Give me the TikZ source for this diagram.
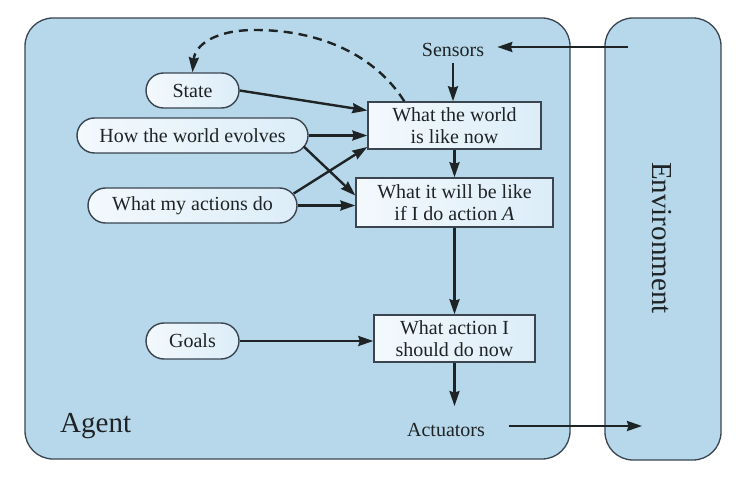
\documentclass[tikz,border=0pt]{standalone}
\usepackage{fontspec}
\setmainfont{Liberation Serif}
\newfontfamily\tnr{Liberation Serif}
\usetikzlibrary{arrows.meta,shapes.misc,calc}
\definecolor{agentblue}{HTML}{B7D8EA}
\definecolor{nodefillA}{HTML}{F3F9FD}
\definecolor{nodefillB}{HTML}{DCEDF8}
\definecolor{edgegray}{HTML}{3A4550}
\definecolor{inkc}{HTML}{1E2326}
\begin{document}
\begin{tikzpicture}[x=1pt,y=-1pt,
 panel/.style={draw=edgegray, line width=1.3pt, fill=agentblue, rounded corners=28pt},
 box/.style={draw=edgegray, line width=1.4pt, left color=nodefillA, right color=nodefillB, align=center, inner sep=0pt, text=inkc, font=\tnr\fontsize{20}{22}\selectfont},
 oval/.style={rounded rectangle, draw=edgegray, line width=1.4pt, left color=nodefillA, right color=nodefillB, inner sep=0pt, text=inkc, font=\tnr\fontsize{20}{22}\selectfont},
 lbl/.style={text=inkc, font=\tnr\fontsize{20}{22}\selectfont, inner sep=0pt},
 big/.style={text=inkc, font=\tnr\fontsize{29}{32}\selectfont, inner sep=0pt},
 arr/.style={-{Stealth[length=15pt,width=10pt,inset=1.5pt]}, line width=2.4pt, draw=inkc},
]
\useasboundingbox (0,0) rectangle (754,486);
\fill[white] (0,0) rectangle (754,486);
\draw[panel] (25,18) rectangle (570,459);
\draw[panel] (605,18) rectangle (721,460);

\node[box, minimum width=173pt, minimum height=47pt] (world) at (454.5,125.5) {What the world\\is like now};
\node[box, minimum width=197pt, minimum height=49pt] (future) at (454.5,202.5) {What it will be like\\if I do action \textit{A}};
\node[box, minimum width=161pt, minimum height=47pt] (act) at (454.5,338.5) {What action I\\should do now};

\node[oval, minimum width=93pt, minimum height=35pt] (state) at (192.5,90.5) {State};
\node[oval, minimum width=231pt, minimum height=35pt] (evolve) at (192.5,135.5) {How the world evolves};
\node[oval, minimum width=209pt, minimum height=35pt] (effects) at (192.5,205.5) {What my actions do};
\node[oval, minimum width=93pt, minimum height=36pt] (goals) at (192.5,341) {Goals};

\node[lbl] (sensors) at (453,50) {Sensors};
\node[lbl] (actuators) at (446,430) {Actuators};
\node[big, anchor=base west] (agent) at (60,432) {Agent};
\node[big, rotate=-90, anchor=base west] (env) at (652,162) {Environment};

\coordinate (envin) at (628,47);
\coordinate (envout) at (642,426);

\draw[arr] (envin) -- ($(sensors.east)+(13,-3)$);
\draw[arr] ($(sensors.south)+(0,6)$) -- (sensors.south |- world.north);
\draw[arr] (world.south) -- (future.north);
\draw[arr] (future.south) -- (act.north);
\draw[arr] (act.south) -- ($(act.south |- actuators.north)+(0,-17)$);
\draw[arr] ($(actuators.east)+(24,-4)$) -- (envout);

\draw[arr] (state.east) -- ($(world.west)+(0,-15)$);
\draw[arr] (evolve.east) -- ($(world.west)+(0,10)$);
\draw[arr] ($(evolve.east)+(-5,11)$) -- ($(future.west)+(0,-7)$);
\draw[arr] ($(effects.east)+(-4,-12)$) -- ($(world.west)+(0,21.5)$);
\draw[arr] (effects.east) -- (effects.east -| future.west);
\draw[arr] (goals.east) -- (goals.east -| act.west);

\draw[arr, dash pattern=on 9pt off 6pt] ($(world.north west)+(37,0)$) .. controls (375,55) and (320,30) .. (255,30) .. controls (215,30) and (195,45) .. (state.north);
\end{tikzpicture}
\end{document}
